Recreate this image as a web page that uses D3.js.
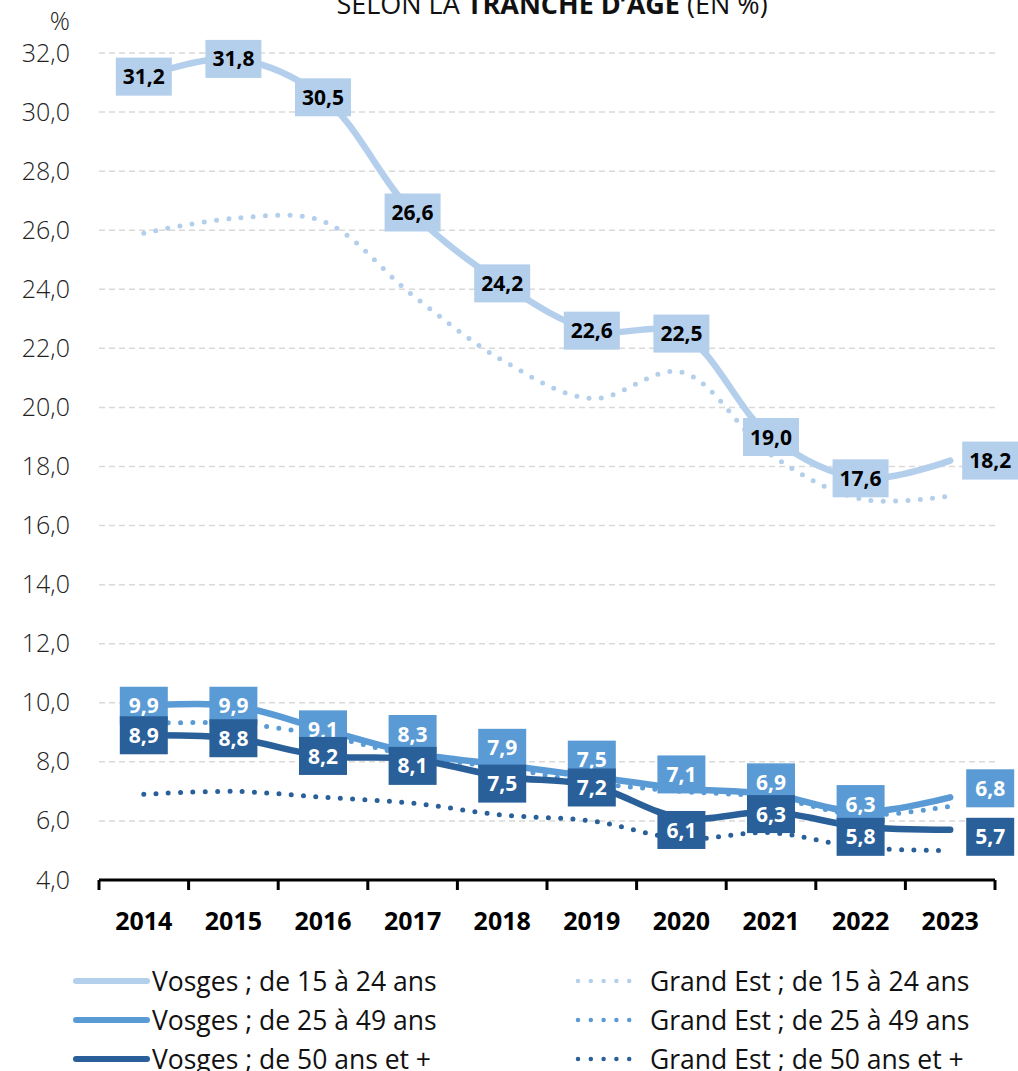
<!DOCTYPE html>
<html>
<head>
<meta charset="utf-8">
<script src="https://cdn.jsdelivr.net/npm/d3@7"></script>
<style>
  body { margin: 0; background: #fff; }
  svg { display: block; font-family: 'Open Sans', 'DejaVu Sans', sans-serif; }
</style>
</head>
<body>
<svg id="chart" width="1018" height="1071"></svg>
<script>
'use strict';

// data
var years = ['2014', '2015', '2016', '2017', '2018', '2019', '2020', '2021', '2022', '2023'];
var yTicks = [4, 6, 8, 10, 12, 14, 16, 18, 20, 22, 24, 26, 28, 30, 32];

var vosges1524 = [31.2, 31.8, 30.5, 26.6, 24.2, 22.6, 22.5, 19.0, 17.6, 18.2];
var vosges2549 = [9.9, 9.9, 9.1, 8.3, 7.9, 7.5, 7.1, 6.9, 6.3, 6.8];
var vosges50 = [8.9, 8.8, 8.2, 8.1, 7.5, 7.2, 6.1, 6.3, 5.8, 5.7];
var ge1524 = [25.9, 26.4, 26.3, 23.8, 21.6, 20.3, 21.2, 18.4, 16.9, 17.0];
var ge2549 = [9.3, 9.3, 8.9, 8.2, 7.8, 7.3, 7.0, 6.8, 6.2, 6.5];
var ge50 = [6.9, 7.0, 6.8, 6.6, 6.2, 6.0, 5.4, 5.6, 5.1, 5.0];

var LIGHT = '#b4cfec';
var MID = '#5b9bd5';
var DARK = '#2a6099';

// label nudges (px) so the crowded boxes don't sit on each other
var NUDGE_MID = [0, 0, 0, -19, -17, -17, -14, -12, -8, -9];
var NUDGE_DARK = [0, 0, 0, 7, 7, 2, 12, 2, 10, 7];

var svg = d3.select('#chart');

var x = d3.scaleBand().domain(years).range([99, 995]);
var y = d3.scaleLinear().domain([4, 32]).range([880, 53]);

var fmt = function(v) { return d3.format('.1f')(v).replace('.', ','); };
var cx = function(d, i) { return x(years[i]) + x.bandwidth() / 2; };

// title (cut at the top in the reference)
var title = svg.append('text')
    .attr('x', 552)
    .attr('y', 14)
    .attr('text-anchor', 'middle')
    .style('font-size', '27px')
    .style('fill', '#111');
title.append('tspan').text('SELON LA ');
title.append('tspan').style('font-weight', 'bold').text('TRANCHE D\u2019ÂGE');
title.append('tspan').text(' (EN %)');

// grid
svg.append('g')
    .selectAll('line')
    .data(yTicks.filter(function(t) { return t > 4; }))
    .enter()
    .append('line')
    .attr('x1', 99)
    .attr('x2', 995)
    .attr('y1', function(d) { return y(d); })
    .attr('y2', function(d) { return y(d); })
    .style('stroke', '#d9d9d9')
    .style('stroke-width', 1.5)
    .style('stroke-dasharray', '6,4');

// y labels
var yAxis = svg.append('g')
    .attr('transform', 'translate(70,0)')
    .call(d3.axisLeft(y).tickValues(yTicks).tickSize(0).tickPadding(0).tickFormat(fmt));
yAxis.select('.domain').remove();
yAxis.selectAll('text')
    .style('font-size', '25px')
    .style('font-weight', 300)
    .style('font-family', "'Open Sans', sans-serif")
    .style('fill', '#222');

svg.append('text')
    .attr('x', 70)
    .attr('y', 30)
    .attr('text-anchor', 'end')
    .style('font-size', '25px')
    .style('font-weight', 300)
    .style('fill', '#222')
    .text('%');

// x axis
var xAxis = svg.append('g')
    .attr('transform', 'translate(0,880)')
    .call(d3.axisBottom(x).tickSize(0).tickPadding(0));
xAxis.select('.domain').remove();
xAxis.append('line')
    .attr('x1', 99).attr('x2', 995)
    .style('stroke', '#000').style('stroke-width', 3);
xAxis.selectAll('.tickmark')
    .data(d3.range(years.length + 1))
    .enter()
    .append('line')
    .attr('class', 'tickmark')
    .attr('x1', function(i) { return 99 + i * x.step(); })
    .attr('x2', function(i) { return 99 + i * x.step(); })
    .attr('y1', 0).attr('y2', 10)
    .style('stroke', '#000').style('stroke-width', 3);
xAxis.selectAll('.tick text')
    .attr('y', 50)
    .attr('dy', 0)
    .style('font-size', '25px')
    .style('font-weight', 'bold')
    .style('font-family', "'Open Sans', sans-serif")
    .style('fill', '#000');

var line = d3.line()
    .x(cx)
    .y(function(d) { return y(d); })
    .curve(d3.curveCatmullRom.alpha(0.5));

var series = [
    { values: ge1524, color: LIGHT, dotted: true },
    { values: ge2549, color: MID, dotted: true },
    { values: ge50, color: DARK, dotted: true },
    { values: vosges1524, color: LIGHT, dotted: false },
    { values: vosges2549, color: MID, dotted: false },
    { values: vosges50, color: DARK, dotted: false }
];

series.forEach(function(s) {
    svg.append('path')
        .datum(s.values)
        .attr('d', line)
        .style('fill', 'none')
        .style('stroke', s.color)
        .style('stroke-width', s.dotted ? 5 : 6.5)
        .style('stroke-linecap', 'round')
        .style('stroke-dasharray', s.dotted ? '0 12.3' : null);
});

// data labels
function drawLabels(values, fill, textColor, w, nudge) {
    var g = svg.append('g');
    var lab = g.selectAll('g')
        .data(values)
        .enter()
        .append('g')
        .attr('transform', function(d, i) {
            var px = cx(d, i);
            if (i === values.length - 1) px += 40; // last one sits right of the point
            var py = y(d) + (nudge ? nudge[i] : 0);
            return 'translate(' + px + ',' + py + ')';
        });
    lab.append('rect')
        .attr('x', -w / 2)
        .attr('y', -19)
        .attr('width', w)
        .attr('height', 38)
        .style('fill', fill);
    lab.append('text')
        .attr('text-anchor', 'middle')
        .attr('dy', '0.36em')
        .style('font-size', '21px')
        .style('font-weight', 'bold')
        .style('fill', textColor)
        .text(fmt);
}

drawLabels(vosges1524, LIGHT, '#000', 56, null);
drawLabels(vosges2549, MID, '#fff', 48, NUDGE_MID);
drawLabels(vosges50, DARK, '#fff', 48, NUDGE_DARK);

// legend
var legendItems = [
    { label: 'Vosges ; de 15 à 24 ans', color: LIGHT, dotted: false, col: 0, row: 0 },
    { label: 'Vosges ; de 25 à 49 ans', color: MID, dotted: false, col: 0, row: 1 },
    { label: 'Vosges ; de 50 ans et +', color: DARK, dotted: false, col: 0, row: 2 },
    { label: 'Grand Est ; de 15 à 24 ans', color: LIGHT, dotted: true, col: 1, row: 0 },
    { label: 'Grand Est ; de 25 à 49 ans', color: MID, dotted: true, col: 1, row: 1 },
    { label: 'Grand Est ; de 50 ans et +', color: DARK, dotted: true, col: 1, row: 2 }
];

var legend = svg.append('g')
    .selectAll('g')
    .data(legendItems)
    .enter()
    .append('g')
    .attr('transform', function(d) {
        return 'translate(' + (d.col ? 578 : 76) + ',' + (981 + d.row * 39) + ')';
    });

legend.append('line')
    .attr('x1', 0)
    .attr('x2', function(d) { return d.dotted ? 64 : 71; })
    .style('stroke', function(d) { return d.color; })
    .style('stroke-width', function(d) { return d.dotted ? 4.5 : 6; })
    .style('stroke-linecap', 'round')
    .style('stroke-dasharray', function(d) { return d.dotted ? '0 12.8' : null; });

legend.append('text')
    .attr('x', function(d) { return d.dotted ? 72 : 76; })
    .attr('dy', '0.36em')
    .style('font-size', '26.5px')
    .style('fill', '#111')
    .text(function(d) { return d.label; });
</script>
</body>
</html>
